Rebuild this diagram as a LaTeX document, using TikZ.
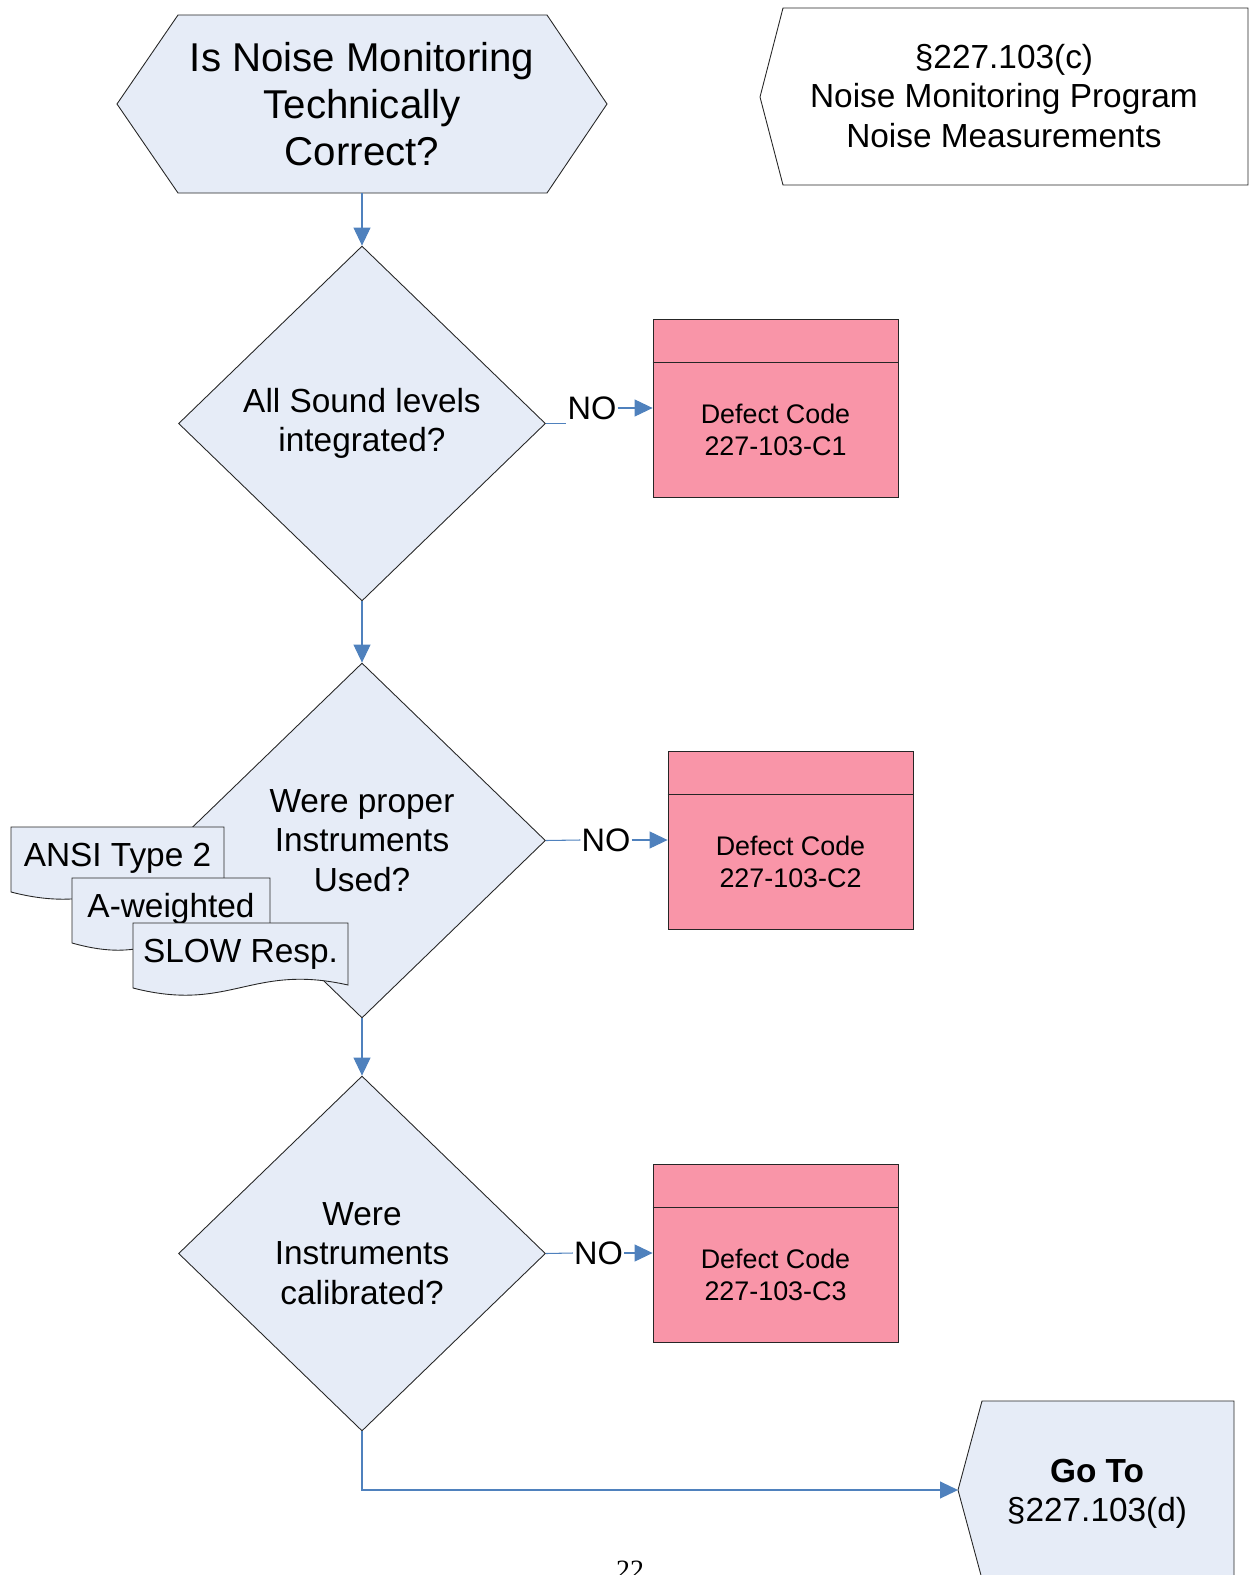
\documentclass[tikz,border=0pt]{standalone}
\usepackage{fontspec}
\setmainfont{Liberation Sans}
\newfontfamily\pagefont{Liberation Serif}
\usetikzlibrary{shapes.geometric,arrows.meta}
\definecolor{paleblue}{RGB}{230,236,247}
\definecolor{defectpink}{RGB}{249,149,168}
\definecolor{linkblue}{RGB}{79,129,189}

\begin{document}
\begin{tikzpicture}[
        x=0.02cm, y=-0.02cm,
        outline/.style={draw=black!85, line width=0.5pt},
        decision/.style={diamond, outline, fill=paleblue, minimum width=7.34cm, minimum height=7.1cm, inner sep=0pt, align=center, font=\fontsize{19pt}{22.4pt}\selectfont},
        defect/.style={rectangle, outline, fill=defectpink, minimum width=4.9cm, minimum height=3.56cm},
        codetext/.style={align=center, font=\fontsize{15.3pt}{18.1pt}\selectfont},
        nolabel/.style={inner sep=0.5pt, font=\fontsize{18.5pt}{20pt}\selectfont},
        doctext/.style={anchor=base, font=\fontsize{19pt}{22pt}\selectfont},
        docsheet/.style={outline, fill=paleblue},
        link/.style={draw=linkblue, line width=0.6pt},
        arrow/.style={link, -{Triangle[length=0.36cm, width=0.34cm]}}
    ]
        \useasboundingbox (0,0) rectangle (1249,1575);

        % start and off-page reference
        \filldraw[outline, fill=paleblue] (117,104) -- (178,15) -- (547,15) -- (607,104) -- (547,193) -- (178,193) -- cycle;
        \node[minimum height=3.56cm, align=center, font=\fontsize{22.9pt}{26.6pt}\selectfont] (start) at (362,104) {Is Noise Monitoring\\Technically\\Correct?};
        \filldraw[outline, fill=white] (1248,8) -- (783,8) -- (760,97) -- (783,185) -- (1248,185) -- cycle;
        \node[align=center, font=\fontsize{19pt}{22.4pt}\selectfont] (ref) at (1004,96) {\S227.103(c)\\Noise Monitoring Program\\Noise Measurements};

        % decisions
        \node[decision] (d1) at (362,423.5) {All Sound levels\\integrated?};
        \node[decision] (d2) at (362,840.5) {Were proper\\Instruments\\Used?};
        \node[decision] (d3) at (362,1253.5) {Were\\Instruments\\calibrated?};

        % instrument notes
        \filldraw[docsheet] (11,827) -- (224,827) -- (224,889) .. controls (128,867) and (107,917) .. (11,892) -- cycle;
        \node[doctext] (ansi) at (117.5,866) {ANSI Type 2};
        \filldraw[docsheet] (72,878) -- (270,878) -- (270,940) .. controls (161,918) and (161,968) .. (72,943) -- cycle;
        \node[doctext] (aweight) at (171,917) {A-weighted};
        \filldraw[docsheet] (133,923) -- (348,923) -- (348,985) .. controls (251,963) and (230,1013) .. (133,988) -- cycle;
        \node[doctext] (slow) at (240.5,962) {SLOW Resp.};

        % defect codes
        \node[defect] (box1) at (775.5,408) {};
        \draw[outline] ([yshift=-0.88cm]box1.north west) -- ([yshift=-0.88cm]box1.north east);
        \node[codetext] (code1) at ([yshift=-0.44cm]box1.center) {Defect Code\\227-103-C1};
        \node[defect] (box2) at (790.5,840) {};
        \draw[outline] ([yshift=-0.88cm]box2.north west) -- ([yshift=-0.88cm]box2.north east);
        \node[codetext] (code2) at ([yshift=-0.44cm]box2.center) {Defect Code\\227-103-C2};
        \node[defect] (box3) at (775.5,1253) {};
        \draw[outline] ([yshift=-0.88cm]box3.north west) -- ([yshift=-0.88cm]box3.north east);
        \node[codetext] (code3) at ([yshift=-0.44cm]box3.center) {Defect Code\\227-103-C3};

        % go to next section
        \filldraw[outline, fill=paleblue] (1234,1401) -- (982,1401) -- (958,1490) -- (982,1579) -- (1234,1579) -- cycle;
        \coordinate (gotip) at (958,1490);
        \node[align=center, font=\fontsize{19pt}{22.1pt}\selectfont] (goto) at (1097,1494) {\textbf{Go To}\\\S227.103(d)};

        % NO labels
        \node[nolabel] (no1) at (592,408) {NO};
        \node[nolabel] (no2) at (606,840) {NO};
        \node[nolabel] (no3) at (598.5,1253) {NO};

        \draw[arrow] (start.south) -- (d1.north);
        \draw[arrow] (d1.south) -- (d2.north);
        \draw[arrow] (d2.south) -- (d3.north);
        \draw[link] (d1.east) -- (d1.east -| no1.west);
        \draw[arrow] (no1.east) -- (box1.west);
        \draw[link] (d2.east) -- (no2.west);
        \draw[arrow] (no2.east) -- (box2.west);
        \draw[link] (d3.east) -- (no3.west);
        \draw[arrow] (no3.east) -- (box3.west);
        \draw[arrow] (d3.south) |- (gotip);

        \node[anchor=base, font=\pagefont\fontsize{15.9pt}{18pt}\selectfont] (pageno) at (630,1579) {22};
    \end{tikzpicture}
\end{document}
